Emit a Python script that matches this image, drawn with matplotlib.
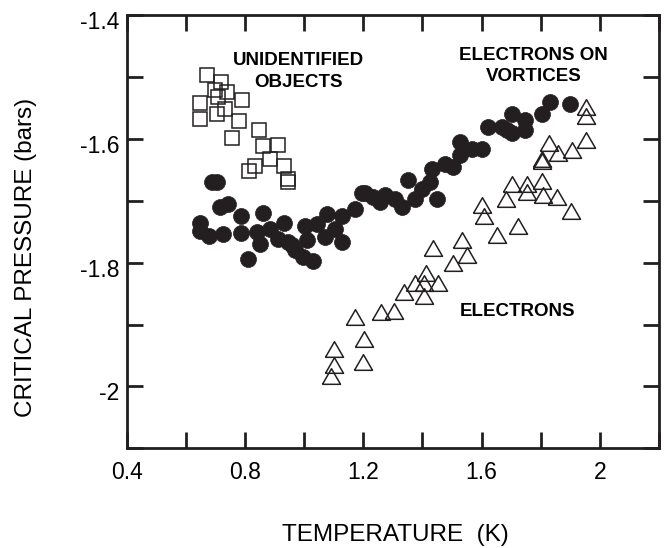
import matplotlib
matplotlib.use("Agg")
import matplotlib.pyplot as plt
from matplotlib.transforms import ScaledTranslation

plt.rcParams['font.family'] = ['Liberation Sans', 'DejaVu Sans']

# Unidentified objects (open squares)
sq_T = [0.673, 0.718, 0.738, 0.699, 0.710, 0.789, 0.648, 0.648, 0.704, 0.732, 0.781,
        0.848, 0.755, 0.860, 0.913, 0.885, 0.834, 0.815, 0.932, 0.947, 0.947]
sq_P = [-1.497, -1.508, -1.524, -1.521, -1.532, -1.537, -1.542, -1.567, -1.559, -1.551, -1.571,
        -1.585, -1.598, -1.612, -1.610, -1.632, -1.643, -1.652, -1.643, -1.664, -1.670]

# Electrons on vortices (filled circles)
vx_T = [0.648, 0.648, 0.679, 0.690, 0.704, 0.716, 0.744, 0.727, 0.787, 0.786, 0.811,
        0.860, 0.840, 0.851, 0.885, 0.932, 0.913, 0.947, 0.959, 0.969, 1.003, 1.009,
        0.997, 1.031, 1.043, 1.076, 1.071, 1.104, 1.127, 1.127, 1.172, 1.195, 1.206,
        1.234, 1.257, 1.274, 1.307, 1.330, 1.352, 1.375, 1.398, 1.426, 1.431, 1.448,
        1.476, 1.505, 1.527, 1.527, 1.567, 1.601, 1.623, 1.668, 1.685, 1.702, 1.702,
        1.747, 1.747, 1.803, 1.832, 1.899]
vx_P = [-1.735, -1.748, -1.756, -1.670, -1.670, -1.710, -1.705, -1.753, -1.725, -1.752, -1.794,
        -1.720, -1.751, -1.770, -1.745, -1.735, -1.761, -1.767, -1.771, -1.780, -1.740, -1.764,
        -1.791, -1.797, -1.737, -1.721, -1.759, -1.745, -1.724, -1.767, -1.713, -1.688, -1.688,
        -1.694, -1.702, -1.691, -1.697, -1.710, -1.667, -1.697, -1.680, -1.670, -1.648, -1.697,
        -1.640, -1.645, -1.605, -1.626, -1.616, -1.616, -1.581, -1.581, -1.586, -1.559, -1.591,
        -1.570, -1.586, -1.559, -1.540, -1.544]

# Electrons (open triangles)
el_T = [1.953, 1.953, 1.953, 1.829, 1.860, 1.905, 1.806, 1.806, 1.704, 1.755, 1.806,
        1.683, 1.753, 1.809, 1.854, 1.902, 1.601, 1.608, 1.653, 1.722, 1.535, 1.552,
        1.502, 1.437, 1.454, 1.411, 1.406, 1.406, 1.375, 1.339, 1.304, 1.260, 1.172,
        1.204, 1.200, 1.101, 1.101, 1.090]
el_P = [-1.548, -1.563, -1.601, -1.606, -1.623, -1.617, -1.632, -1.636, -1.672, -1.672, -1.668,
        -1.697, -1.686, -1.690, -1.693, -1.717, -1.707, -1.725, -1.755, -1.740, -1.763, -1.787,
        -1.800, -1.776, -1.833, -1.816, -1.833, -1.853, -1.833, -1.848, -1.878, -1.879, -1.887,
        -1.923, -1.960, -1.940, -1.965, -1.983]

x_ticks = [0.4, 0.6, 0.8, 1.0, 1.2, 1.4, 1.6, 1.8, 2.0, 2.2]
x_labels = ['0.4', '', '0.8', '', '1.2', '', '1.6', '', '2', '']
y_ticks = [-2.1, -2.0, -1.9, -1.8, -1.7, -1.6, -1.5, -1.4]
y_labels = ['', '-2', '', '-1.8', '', '-1.6', '', '-1.4']

ink = '#231f20'

fig = plt.figure(figsize=(6.64, 5.48), dpi=100)
ax = fig.add_axes([0.1908, 0.182, 0.8017, 0.790])

tri = [(-1, -0.866), (1, -0.866), (0, 0.866), (-1, -0.866)]
ax.plot(vx_T, vx_P, linestyle='none', marker='o', markersize=11.5,
        markerfacecolor=ink, markeredgecolor=ink, markeredgewidth=0.5, zorder=3)
ax.plot(sq_T, sq_P, linestyle='none', marker='s', markersize=9.6,
        markerfacecolor='none', markeredgecolor=ink, markeredgewidth=1.1, zorder=4)
ax.plot(el_T, el_P, linestyle='none', marker=tri, markersize=13,
        markerfacecolor='none', markeredgecolor=ink, markeredgewidth=1.1, zorder=4)

ax.set_xlim(0.4, 2.2)
ax.set_ylim(-2.1, -1.4)
ax.set_xticks(x_ticks)
ax.set_xticklabels(x_labels)
ax.set_yticks(y_ticks)
ax.set_yticklabels(y_labels)

for s in ax.spines.values():
    s.set_linewidth(2.0)
    s.set_color(ink)
ax.tick_params(axis='both', direction='in', length=11.5, width=2.0, color=ink,
               top=True, right=True, labelsize=16.5)
ax.tick_params(axis='x', pad=9)
ax.tick_params(axis='y', pad=5)

off = ScaledTranslation(0, -5 / 100, fig.dpi_scale_trans)
for lab in ax.get_yticklabels():
    lab.set_transform(lab.get_transform() + off)

fig.text(395 / 664, 1 - 535 / 548, 'TEMPERATURE  (K)', fontsize=17.5,
         ha='center', va='center')
fig.text(26 / 664, 1 - 257 / 548, 'CRITICAL PRESSURE (bars)', fontsize=17.5,
         ha='center', va='center', rotation=90)

ax.text(0.981, -1.4908, 'UNIDENTIFIED\nOBJECTS', fontsize=13.5, fontweight='bold',
        ha='center', va='center', linespacing=1.32)
ax.text(1.775, -1.482, 'ELECTRONS ON\nVORTICES', fontsize=13.5, fontweight='bold',
        ha='center', va='center', linespacing=1.32)
ax.text(1.723, -1.879, 'ELECTRONS', fontsize=13.5, fontweight='bold',
        ha='center', va='center')

fig.savefig('out.png', dpi=100)
